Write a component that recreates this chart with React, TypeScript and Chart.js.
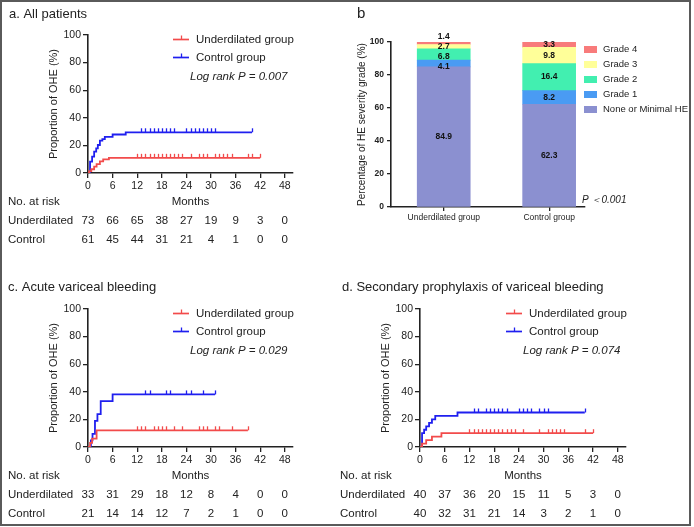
import React, { useEffect, useRef } from "react";
import { Chart, registerables } from "chart.js";

Chart.register(...registerables);

const W = 694;
const H = 527;
const FONT = "'Liberation Sans', Arial, Helvetica, sans-serif";
const INK = "#222222";
const RED = "#F24B4B";
const BLUE = "#1F1FEF";

// ---------- shared KM scaffolding ----------
const monthTicks = [0, 6, 12, 18, 24, 30, 36, 42, 48];
const kmYTicks = [0, 20, 40, 60, 80, 100];
const groupLabels = ["Underdilated group", "Control group"];
const riskRowLabels = ["Underdilated", "Control"];

// ---------- panel a: all patients ----------
const aUnderTimes = [0, 0.3, 0.8, 1.5, 2.1, 2.9, 3.7, 5.1];
const aUnderValues = [0, 1.4, 2.7, 4.6, 6.5, 8.4, 9.9, 11.0];
const aUnderEnd = 42;
const aUnderCensor = [12, 13, 14, 15, 16, 17, 18, 19, 20, 21, 22, 23, 25, 27, 28, 29, 31, 32, 33, 34, 35, 39, 40, 42];
const aControlTimes = [0, 0.5, 1, 1.5, 2, 2.4, 2.9, 3.5, 4.1, 6, 9.2];
const aControlValues = [0, 8.2, 11.8, 15.5, 17.9, 20.3, 23.4, 24.6, 26.2, 27.9, 29.5];
const aControlEnd = 40;
const aControlCensor = [13, 14, 15, 16, 17, 18, 19, 20, 21, 24, 25, 26, 27, 28, 29, 30, 31, 40];
const aUnderRisk = [73, 66, 65, 38, 27, 19, 9, 3, 0];
const aControlRisk = [61, 45, 44, 31, 21, 4, 1, 0, 0];

// ---------- panel c: acute variceal bleeding ----------
const cUnderTimes = [0, 0.5, 1, 2.1];
const cUnderValues = [0, 3.0, 6.1, 12.1];
const cUnderEnd = 39;
const cUnderCensor = [12, 13, 14, 16, 17, 18, 19, 21, 23, 27, 28, 29, 31, 32, 35, 39];
const cControlTimes = [0, 0.7, 1.1, 1.7, 2.3, 3.1, 6];
const cControlValues = [0, 4.8, 9.5, 19.0, 23.8, 33.3, 38.1];
const cControlEnd = 31;
const cControlCensor = [14, 15, 19, 20, 24, 25, 28, 31];
const cUnderRisk = [33, 31, 29, 18, 12, 8, 4, 0, 0];
const cControlRisk = [21, 14, 14, 12, 7, 2, 1, 0, 0];

// ---------- panel d: secondary prophylaxis ----------
const dUnderTimes = [0, 0.5, 1.5, 2.9, 5.2];
const dUnderValues = [0, 2.5, 5.0, 7.5, 10.0];
const dUnderEnd = 42;
const dUnderCensor = [12, 13, 14, 15, 16, 17, 18, 19, 20, 21, 22, 23, 25, 29, 31, 32, 33, 34, 35, 40, 42];
const dControlTimes = [0, 0.5, 1, 1.5, 2.2, 2.9, 3.7, 9.1];
const dControlValues = [0, 10.0, 12.5, 15.0, 17.5, 20.0, 22.5, 25.0];
const dControlEnd = 40;
const dControlCensor = [13, 14, 16, 17, 18, 19, 20, 21, 24, 25, 26, 27, 29, 30, 31, 40];
const dUnderRisk = [40, 37, 36, 20, 15, 11, 5, 3, 0];
const dControlRisk = [40, 32, 31, 21, 14, 3, 2, 1, 0];

// ---------- panel b: HE severity grade ----------
const bCategories = ["Underdilated group", "Control group"];
const gradeLabels = ["None or Minimal HE", "Grade 1", "Grade 2", "Grade 3", "Grade 4"];
const underGrades = [84.9, 4.1, 6.8, 2.7, 1.4];
const controlGrades = [62.3, 8.2, 16.4, 9.8, 3.3];
const gradeColors = ["#8B90D0", "#4A9BF3", "#42EFB0", "#FFFF99", "#F87B7B"];
const bYTicks = [0, 20, 40, 60, 80, 100];

function stepPoints(times: number[], values: number[], end: number) {
  const pts = times.map((t, i) => ({ x: t, y: values[i] }));
  pts.push({ x: end, y: values[values.length - 1] });
  return pts;
}

function valueAt(times: number[], values: number[], t: number) {
  let v = values[0];
  for (let i = 0; i < times.length; i++) if (times[i] <= t) v = values[i];
  return v;
}

const panelA = {
  area: { left: 88, top: 35, right: 293, bottom: 173 },
  title: "a. All patients",
  titleX: 9,
  titleY: 14,
  logRank: "Log rank P = 0.007",
  groups: [
    { times: aUnderTimes, values: aUnderValues, end: aUnderEnd, censor: aUnderCensor, risk: aUnderRisk, color: RED },
    { times: aControlTimes, values: aControlValues, end: aControlEnd, censor: aControlCensor, risk: aControlRisk, color: BLUE },
  ],
};

const panelC = {
  area: { left: 88, top: 309, right: 293, bottom: 447 },
  title: "c. Acute variceal bleeding",
  titleX: 8,
  titleY: 287,
  logRank: "Log rank P = 0.029",
  groups: [
    { times: cUnderTimes, values: cUnderValues, end: cUnderEnd, censor: cUnderCensor, risk: cUnderRisk, color: RED },
    { times: cControlTimes, values: cControlValues, end: cControlEnd, censor: cControlCensor, risk: cControlRisk, color: BLUE },
  ],
};

const panelD = {
  area: { left: 420, top: 309, right: 626, bottom: 447 },
  title: "d. Secondary prophylaxis of variceal bleeding",
  titleX: 342,
  titleY: 287,
  logRank: "Log rank P = 0.074",
  groups: [
    { times: dUnderTimes, values: dUnderValues, end: dUnderEnd, censor: dUnderCensor, risk: dUnderRisk, color: RED },
    { times: dControlTimes, values: dControlValues, end: dControlEnd, censor: dControlCensor, risk: dControlRisk, color: BLUE },
  ],
};

function kmOverlay(p: any) {
  return {
    id: "kmOverlay",
    afterDatasetsDraw(chart: any) {
      const ctx = chart.ctx;
      const xs = chart.scales.x;
      const ys = chart.scales.y;
      ctx.save();
      p.groups.forEach((g: any) => {
        ctx.strokeStyle = g.color;
        ctx.lineWidth = 1.3;
        g.censor.forEach((t: number) => {
          const v = valueAt(g.times, g.values, t);
          const px = Math.round(xs.getPixelForValue(t)) + 0.5;
          const py = ys.getPixelForValue(v);
          ctx.beginPath();
          ctx.moveTo(px, py);
          ctx.lineTo(px, py - 4);
          ctx.stroke();
        });
      });
      ctx.restore();
    },
    afterDraw(chart: any) {
      const ctx = chart.ctx;
      const xs = chart.scales.x;
      const ca = chart.chartArea;
      ctx.save();
      ctx.fillStyle = INK;
      ctx.textBaseline = "middle";
      ctx.textAlign = "left";
      // panel title
      ctx.font = `13px ${FONT}`;
      ctx.fillText(p.title, p.titleX, p.titleY);
      // legend
      ctx.font = `11.5px ${FONT}`;
      p.groups.forEach((g: any, i: number) => {
        const y = Math.round(ca.top + [4, 22][i]) + 0.5;
        const x0 = ca.right - 120;
        ctx.strokeStyle = g.color;
        ctx.lineWidth = 1.7;
        ctx.beginPath();
        ctx.moveTo(x0, y);
        ctx.lineTo(x0 + 16, y);
        ctx.stroke();
        ctx.lineWidth = 1.3;
        ctx.beginPath();
        ctx.moveTo(x0 + 8.5, y);
        ctx.lineTo(x0 + 8.5, y - 4);
        ctx.stroke();
        ctx.fillStyle = INK;
        ctx.fillText(groupLabels[i], ca.right - 97, y);
      });
      ctx.font = `italic 11.5px ${FONT}`;
      ctx.fillText(p.logRank, ca.right - 103, ca.top + 42);
      // at-risk table
      ctx.font = `11.5px ${FONT}`;
      ctx.fillText("No. at risk", ca.left - 80, ca.bottom + 29);
      ctx.textAlign = "center";
      ctx.fillText("Months", (ca.left + ca.right) / 2, ca.bottom + 29);
      p.groups.forEach((g: any, i: number) => {
        const y = ca.bottom + 48 + i * 19;
        ctx.textAlign = "left";
        ctx.fillText(riskRowLabels[i], ca.left - 80, y);
        ctx.textAlign = "center";
        g.risk.forEach((n: number, k: number) => {
          ctx.fillText(String(n), xs.getPixelForValue(monthTicks[k]), y);
        });
      });
      ctx.restore();
    },
  };
}

function axisCommon(tickLen: number) {
  return {
    grid: { display: true, drawOnChartArea: false, drawTicks: true, tickLength: tickLen, color: INK, lineWidth: 1.3, offset: false },
    border: { display: true, color: INK, width: 1.6 },
  };
}

function kmConfig(p: any): any {
  const yW = 45;
  const xH = 22;
  const { left, top, right, bottom } = p.area;
  return {
    type: "line",
    data: {
      datasets: p.groups.map((g: any, i: number) => ({
        label: groupLabels[i],
        data: stepPoints(g.times, g.values, g.end),
        borderColor: g.color,
        backgroundColor: g.color,
        borderWidth: 1.8,
        stepped: "before",
        pointRadius: 0,
        fill: false,
      })),
    },
    options: {
      animation: false,
      responsive: false,
      events: [],
      layout: { padding: { left: left - yW, top, right: W - right, bottom: H - bottom - xH } },
      plugins: { legend: { display: false }, tooltip: { enabled: false }, title: { display: false } },
      scales: {
        x: {
          type: "linear",
          min: 0,
          max: 50,
          offset: false,
          afterBuildTicks: (s: any) => {
            s.ticks = monthTicks.map((v) => ({ value: v }));
          },
          afterFit: (s: any) => {
            s.height = xH;
          },
          ...axisCommon(5),
          ticks: { font: { family: FONT, size: 10.5 }, color: INK, padding: 2, maxRotation: 0, autoSkip: false },
        },
        y: {
          type: "linear",
          min: 0,
          max: 100,
          afterBuildTicks: (s: any) => {
            s.ticks = kmYTicks.map((v) => ({ value: v }));
          },
          afterFit: (s: any) => {
            s.width = yW;
          },
          ...axisCommon(5),
          ticks: { font: { family: FONT, size: 10.5 }, color: INK, padding: 2 },
          title: {
            display: true,
            text: "Proportion of OHE (%)",
            font: { family: FONT, size: 11 },
            color: INK,
            padding: { top: 4, bottom: 4 },
          },
        },
      },
    },
    plugins: [kmOverlay(p)],
  };
}

function spread(items: any[], gap: number) {
  const sorted = items.slice().sort((a, b) => a.y - b.y);
  let groups = sorted.map((it) => ({ members: [it], top: it.y }));
  let changed = true;
  while (changed) {
    changed = false;
    for (let i = 0; i < groups.length - 1; i++) {
      const a = groups[i];
      const b = groups[i + 1];
      if (a.top + a.members.length * gap > b.top) {
        const members = a.members.concat(b.members);
        let s = 0;
        members.forEach((m: any, k: number) => (s += m.y - k * gap));
        groups.splice(i, 2, { members, top: s / members.length });
        changed = true;
        break;
      }
    }
  }
  groups.forEach((g) => g.members.forEach((m: any, k: number) => (m.ly = g.top + k * gap)));
  return sorted;
}

const barLabels = {
  id: "barLabels",
  afterDatasetsDraw(chart: any) {
    const ctx = chart.ctx;
    ctx.save();
    ctx.font = `bold 8.5px ${FONT}`;
    ctx.fillStyle = "#111";
    ctx.textAlign = "center";
    ctx.textBaseline = "middle";
    bCategories.forEach((_, i) => {
      const items = chart.data.datasets.map((ds: any, k: number) => {
        const el = chart.getDatasetMeta(k).data[i];
        return { x: el.x, y: (el.y + el.base) / 2, text: String(ds.data[i].y) };
      });
      spread(items, 10).forEach((it: any) => ctx.fillText(it.text, it.x, it.ly));
    });
    ctx.restore();
  },
  afterDraw(chart: any) {
    const ctx = chart.ctx;
    ctx.save();
    ctx.textBaseline = "middle";
    ctx.textAlign = "left";
    ctx.fillStyle = INK;
    ctx.font = `15px ${FONT}`;
    ctx.fillText("b", 357, 14);
    ctx.font = `9.5px ${FONT}`;
    for (let k = gradeLabels.length - 1; k >= 0; k--) {
      const r = gradeLabels.length - 1 - k;
      const y = 49 + r * 15.2;
      ctx.fillStyle = gradeColors[k];
      ctx.fillRect(584, Math.round(y - 3.5), 13, 7);
      ctx.fillStyle = INK;
      ctx.fillText(gradeLabels[k], 603, y);
    }
    ctx.font = `italic 10px ${FONT}`;
    ctx.fillText("P \uFF1C0.001", 582, 200);
    ctx.restore();
  },
};

function bConfig(): any {
  const area = { left: 391, top: 42, right: 585, bottom: 207 };
  const yW = 39;
  const xH = 22;
  const series = [underGrades, controlGrades];
  return {
    type: "bar",
    data: {
      datasets: gradeLabels.map((g, k) => ({
        label: g,
        data: bCategories.map((_, i) => ({ x: i, y: series[i][k] })),
        backgroundColor: gradeColors[k],
        borderWidth: 0,
        barThickness: 53,
      })),
    },
    options: {
      animation: false,
      responsive: false,
      events: [],
      layout: {
        padding: { left: area.left - yW, top: area.top, right: W - area.right, bottom: H - area.bottom - xH },
      },
      plugins: { legend: { display: false }, tooltip: { enabled: false }, title: { display: false } },
      scales: {
        x: {
          type: "linear",
          min: -0.5,
          max: 1.34,
          offset: false,
          stacked: true,
          afterBuildTicks: (s: any) => {
            s.ticks = bCategories.map((_, i) => ({ value: i }));
          },
          afterFit: (s: any) => {
            s.height = xH;
          },
          ...axisCommon(4),
          ticks: {
            font: { family: FONT, size: 8.5 },
            color: INK,
            padding: 2,
            maxRotation: 0,
            autoSkip: false,
            callback: (v: any) => bCategories[v] ?? "",
          },
        },
        y: {
          type: "linear",
          min: 0,
          max: 100,
          stacked: true,
          afterBuildTicks: (s: any) => {
            s.ticks = bYTicks.map((v) => ({ value: v }));
          },
          afterFit: (s: any) => {
            s.width = yW;
          },
          ...axisCommon(4),
          ticks: { font: { family: FONT, size: 8.5, weight: "bold" }, color: INK, padding: 3 },
          title: {
            display: true,
            text: "Percentage of HE severity grade (%)",
            font: { family: FONT, size: 10 },
            color: INK,
            padding: { top: 4, bottom: 4 },
          },
        },
      },
    },
    plugins: [barLabels],
  };
}

function ChartCanvas({ make }: { make: () => any }) {
  const ref = useRef<HTMLCanvasElement | null>(null);
  useEffect(() => {
    if (!ref.current) return;
    const chart = new Chart(ref.current, make());
    return () => chart.destroy();
  }, []);
  return (
    <canvas
      ref={ref}
      width={W}
      height={H}
      style={{ position: "absolute", left: 0, top: 0, width: W, height: H }}
    />
  );
}

export default function App() {
  return (
    <div style={{ position: "absolute", left: 0, top: 0, width: W, height: H, background: "#fff", overflow: "hidden" }}>
      <div
        style={{
          position: "absolute",
          left: 0,
          top: 0,
          width: 691,
          height: 526,
          border: "2px solid #5a5a5a",
          boxSizing: "border-box",
        }}
      />
      <ChartCanvas make={() => kmConfig(panelA)} />
      <ChartCanvas make={bConfig} />
      <ChartCanvas make={() => kmConfig(panelC)} />
      <ChartCanvas make={() => kmConfig(panelD)} />
    </div>
  );
}
